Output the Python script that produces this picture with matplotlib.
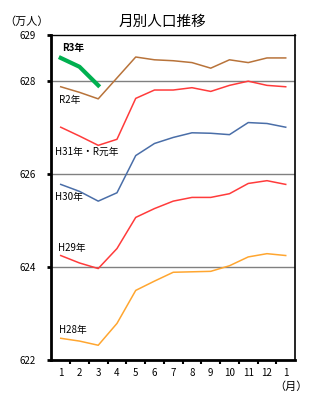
import matplotlib.pyplot as plt

plt.rcParams['font.family'] = ['Noto Sans CJK JP', 'DejaVu Sans']

months = ["1", "2", "3", "4", "5", "6", "7", "8", "9", "10", "11", "12", "1"]

h28 = [622.47, 622.41, 622.32, 622.79, 623.50, 623.70, 623.89, 623.90, 623.91, 624.03, 624.22, 624.29, 624.25]
h29 = [624.25, 624.09, 623.97, 624.40, 625.07, 625.26, 625.42, 625.50, 625.50, 625.58, 625.80, 625.86, 625.78]
h30 = [625.78, 625.63, 625.42, 625.60, 626.40, 626.66, 626.79, 626.89, 626.88, 626.85, 627.11, 627.09, 627.01]
h31 = [627.01, 626.82, 626.62, 626.75, 627.63, 627.81, 627.81, 627.86, 627.78, 627.91, 628.00, 627.91, 627.88]
r2 = [627.88, 627.76, 627.62, 628.07, 628.52, 628.46, 628.44, 628.40, 628.28, 628.46, 628.40, 628.50, 628.50]
r3 = [628.50, 628.31, 627.91]

fig = plt.figure(figsize=(3.25, 4.13), dpi=100)
ax = fig.add_axes([0.158, 0.128, 0.75, 0.788])

x = list(range(len(months)))

# 目盛線
for g in [624, 626, 628]:
    ax.axhline(g, color="#808080", linewidth=1, zorder=1)

ax.plot(x, h28, color="#FFA630", linewidth=1.1, zorder=2)
ax.plot(x, h29, color="#FF3B3B", linewidth=1.1, zorder=2)
ax.plot(x, h30, color="#4A6EA8", linewidth=1.1, zorder=2)
ax.plot(x, h31, color="#FF3B3B", linewidth=1.1, zorder=2)
ax.plot(x, r2, color="#B8733A", linewidth=1.1, zorder=2)
ax.plot(x[:len(r3)], r3, color="#00B050", linewidth=3, zorder=3)

# 系列ラベル
fs = 7
ax.text(0.05, 628.72, "R3年", fontsize=fs, fontweight="bold", va="center")
ax.text(-0.1, 627.59, "R2年", fontsize=fs, va="center")
ax.text(-0.3, 626.47, "H31年・R元年", fontsize=fs, va="center")
ax.text(-0.3, 625.50, "H30年", fontsize=fs, va="center")
ax.text(-0.15, 624.41, "H29年", fontsize=fs, va="center")
ax.text(-0.1, 622.65, "H28年", fontsize=fs, va="center")

ax.set_xlim(-0.5, 12.5)
ax.set_ylim(622, 629)
ax.set_xticks(x)
ax.set_xticklabels(months, fontsize=7)
ax.set_xticks([k + 0.5 for k in range(12)], minor=True)
ax.tick_params(axis="x", which="major", length=0, pad=6)
ax.tick_params(axis="x", which="minor", length=3, width=1.5, direction="out")

ax.set_yticks([622, 624, 626, 628, 629])
ax.set_yticklabels(["622", "624", "626", "628", "629"], fontsize=7)
ax.tick_params(axis="y", length=3, width=2, pad=8)

ax.spines["left"].set_linewidth(2)
ax.spines["bottom"].set_linewidth(2)
ax.spines["top"].set_linewidth(1)
ax.spines["right"].set_linewidth(1.2)

fig.text(0.5, 0.948, "月別人口推移", fontsize=10.5, ha="center", va="center")
fig.text(0.012, 0.948, "（万人）", fontsize=8, ha="left", va="center")
fig.text(0.845, 0.065, "（月）", fontsize=8, ha="left", va="center")

fig.savefig("out.png", dpi=100)
